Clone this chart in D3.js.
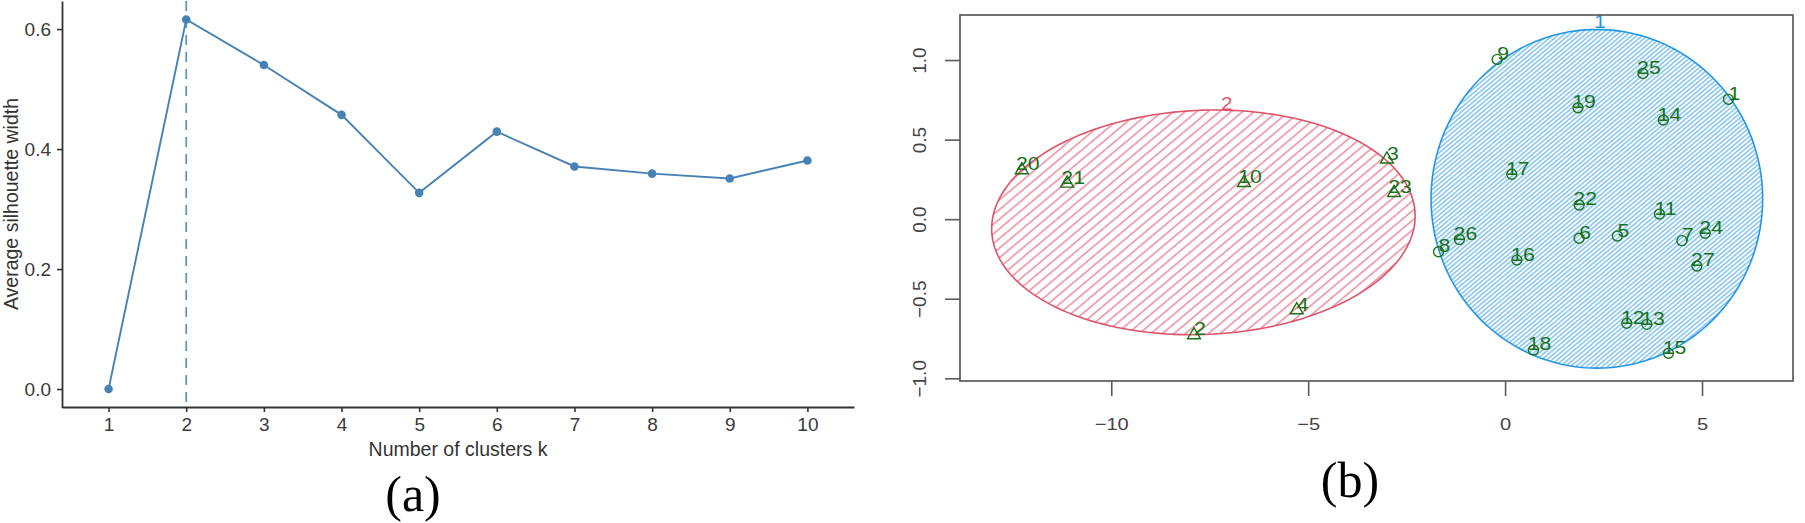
<!DOCTYPE html>
<html>
<head>
<meta charset="utf-8">
<script src="https://cdn.jsdelivr.net/npm/d3@7"></script>
<style>
  html, body { margin: 0; padding: 0; background: #fff; }
  svg { display: block; }
</style>
</head>
<body>
<svg id="chart" width="1805" height="523"></svg>
<script>
// ---------- Panel (a): silhouette ----------
const clusterCounts = ["1", "2", "3", "4", "5", "6", "7", "8", "9", "10"];
const silhouetteWidths = [0.000, 0.616, 0.540, 0.457, 0.327, 0.429, 0.371, 0.359, 0.351, 0.381];
const optimalK = "2";
const silhouetteTicks = [0, 0.2, 0.4, 0.6];

// ---------- Panel (b): cluster plot ----------
const pointIds      = [20, 21, 10, 3, 23, 4, 2,
                       9, 25, 1, 19, 14, 17, 22, 11, 26, 8, 6, 5, 7, 24, 16, 27, 12, 13, 18, 15];
const pointX        = [-12.27, -11.12, -6.63, -3.00, -2.82, -5.29, -7.90,
                       -0.20, 3.50, 5.67, 1.85, 4.02, 0.17, 1.88, 3.92, -1.16, -1.69, 1.88, 2.85, 4.49, 5.08, 0.30, 4.87, 3.09, 3.60, 0.72, 4.15];
const pointY        = [0.309, 0.225, 0.229, 0.376, 0.166, -0.571, -0.728,
                       1.004, 0.916, 0.753, 0.700, 0.623, 0.282, 0.089, 0.032, -0.127, -0.205, -0.120, -0.106, -0.135, -0.089, -0.257, -0.294, -0.654, -0.661, -0.822, -0.843];
const pointCluster  = [2, 2, 2, 2, 2, 2, 2,
                       1, 1, 1, 1, 1, 1, 1, 1, 1, 1, 1, 1, 1, 1, 1, 1, 1, 1, 1, 1];

const clusterIds     = [1, 2];
const clusterCx      = [2.33, -7.66];
const clusterCy      = [0.128, -0.020];
const clusterRx      = [4.21, 5.376];
const clusterRy      = [1.064, 0.705];
const clusterShear   = [0.0, 0.04];
const clusterLabelX  = [2.41, -7.07];
const clusterLabelY  = [1.241, 0.728];
const clusterColors  = ["#2297E6", "#DF536B"];
const clusterHatch   = [3.4, 7.4];   // hatch line spacing (px)

const xTicksB = [-10, -5, 0, 5];
const yTicksB = [-1, -0.5, 0, 0.5, 1];

const svg = d3.select("#chart");

// ================= Panel (a) =================
const gA = svg.append("g");
const xA = d3.scalePoint().domain(clusterCounts).range([62, 854]).padding(0.6);
const yA = d3.scaleLinear().domain([-0.0308, 0.6468]).range([407.5, 1]);
const steel = "#4682B4";

gA.append("line")
  .attr("x1", xA(optimalK)).attr("x2", xA(optimalK))
  .attr("y1", yA.range()[1]).attr("y2", yA.range()[0])
  .attr("stroke", "#5892c8").attr("stroke-width", 1.7)
  .attr("stroke-dasharray", "10,7");

const dataA = clusterCounts.map((k, i) => ({k, v: silhouetteWidths[i]}));
gA.append("path")
  .datum(dataA)
  .attr("fill", "none").attr("stroke", steel).attr("stroke-width", 1.9)
  .attr("d", d3.line().x(d => xA(d.k)).y(d => yA(d.v)));
gA.selectAll("circle.pt").data(dataA).join("circle")
  .attr("class", "pt")
  .attr("cx", d => xA(d.k)).attr("cy", d => yA(d.v)).attr("r", 4.3)
  .attr("fill", steel);

const axA_y = gA.append("g").attr("transform", "translate(62,0)")
  .call(d3.axisLeft(yA).tickValues(silhouetteTicks).tickFormat(d3.format(".1f")).tickSize(5).tickSizeOuter(0).tickPadding(6));
const axA_x = gA.append("g").attr("transform", "translate(0,407)")
  .call(d3.axisBottom(xA).tickSize(5).tickSizeOuter(0).tickPadding(6));
[axA_y, axA_x].forEach(ax => {
  ax.select(".domain").attr("stroke", "#333").attr("stroke-width", 1.8);
  ax.selectAll(".tick line").attr("stroke", "#333").attr("stroke-width", 1.6);
  ax.selectAll(".tick text").attr("fill", "#3a3a3a")
    .style("font-family", "'Liberation Sans', Arial, sans-serif").style("font-size", "19px");
});

gA.append("text")
  .attr("x", (62 + 854) / 2).attr("y", 456)
  .attr("text-anchor", "middle").attr("fill", "#333")
  .style("font-family", "'Liberation Sans', Arial, sans-serif").style("font-size", "19.5px")
  .text("Number of clusters k");
gA.append("text")
  .attr("transform", "translate(18," + ((1 + 407) / 2) + ") rotate(-90)")
  .attr("text-anchor", "middle").attr("fill", "#333")
  .style("font-family", "'Liberation Sans', Arial, sans-serif").style("font-size", "19.5px")
  .text("Average silhouette width");

svg.append("text")
  .attr("x", 413).attr("y", 511)
  .attr("text-anchor", "middle").attr("fill", "#000")
  .style("font-family", "'Liberation Serif', 'Times New Roman', serif").style("font-size", "50px")
  .text("(a)");

// ================= Panel (b) =================
const gB = svg.append("g");
const xB = d3.scaleLinear().domain([-13.84, 7.31]).range([960, 1793]);
const yB = d3.scaleLinear().domain([-1.017, 1.283]).range([381, 15]);
const defs = svg.append("defs");

clusterIds.forEach((id, i) => {
  const pat = defs.append("pattern")
    .attr("id", "hatch" + id)
    .attr("patternUnits", "userSpaceOnUse")
    .attr("width", 20).attr("height", clusterHatch[i])
    .attr("patternTransform", "rotate(-40)");
  pat.append("line")
    .attr("x1", 0).attr("x2", 20)
    .attr("y1", clusterHatch[i] / 2).attr("y2", clusterHatch[i] / 2)
    .attr("stroke", clusterColors[i]).attr("stroke-width", i === 0 ? 1.0 : 1.2)
    .attr("stroke-opacity", 0.85);
});

const tSteps = d3.range(0, 361, 2);
const ellipseLine = d3.line().x(d => xB(d[0])).y(d => yB(d[1])).curve(d3.curveLinearClosed);
clusterIds.forEach((id, i) => {
  const pts = tSteps.map(deg => {
    const t = deg * Math.PI / 180;
    return [clusterCx[i] + clusterRx[i] * Math.cos(t),
            clusterCy[i] + clusterRy[i] * Math.sin(t) + clusterShear[i] * Math.cos(t)];
  });
  gB.append("path")
    .attr("d", ellipseLine(pts))
    .attr("fill", "url(#hatch" + id + ")")
    .attr("stroke", clusterColors[i]).attr("stroke-width", 1.6);
  gB.append("text")
    .attr("transform", `translate(${xB(clusterLabelX[i])},${yB(clusterLabelY[i])}) scale(1.15,1)`)
    .attr("text-anchor", "middle").attr("dy", "0.35em")
    .attr("fill", clusterColors[i])
    .style("font-family", "'Liberation Sans', Arial, sans-serif").style("font-size", "18px")
    .text(id);
});

gB.append("rect")
  .attr("x", xB.range()[0]).attr("y", yB.range()[1])
  .attr("width", xB.range()[1] - xB.range()[0]).attr("height", yB.range()[0] - yB.range()[1])
  .attr("fill", "none").attr("stroke", "#5a5a5a").attr("stroke-width", 1.7);

const green = "#187318";
const dataB = pointIds.map((id, i) => ({id, x: pointX[i], y: pointY[i], c: pointCluster[i]}));
const sym = d3.symbol();
gB.selectAll("path.pt").data(dataB).join("path")
  .attr("class", "pt")
  .attr("transform", d => `translate(${xB(d.x)},${yB(d.y)})`)
  .attr("d", d => d.c === 1 ? sym.type(d3.symbolCircle).size(78)() : sym.type(d3.symbolTriangle).size(72)())
  .attr("fill", "none").attr("stroke", green).attr("stroke-width", 1.4);
gB.selectAll("text.lbl").data(dataB).join("text")
  .attr("class", "lbl")
  .attr("transform", d => `translate(${xB(d.x) + 6},${yB(d.y) - 6}) scale(1.15,1)`)
  .attr("text-anchor", "middle").attr("dy", "0.35em")
  .attr("fill", green)
  .style("font-family", "'Liberation Sans', Arial, sans-serif").style("font-size", "18.5px")
  .text(d => d.id);

const axB_x = gB.append("g").attr("transform", "translate(0,381)")
  .call(d3.axisBottom(xB).tickValues(xTicksB).tickSize(15).tickSizeOuter(0).tickPadding(22).tickFormat(d3.format("d")));
const axB_y = gB.append("g").attr("transform", "translate(960,0)")
  .call(d3.axisLeft(yB).tickValues(yTicksB).tickSize(15).tickSizeOuter(0).tickFormat(d3.format(".1f")));
[axB_x, axB_y].forEach(ax => {
  ax.select(".domain").remove();
  ax.selectAll(".tick line").attr("stroke", "#5a5a5a").attr("stroke-width", 1.6);
  ax.selectAll(".tick text").attr("fill", "#444")
    .style("font-family", "'Liberation Sans', Arial, sans-serif");
});
axB_x.selectAll(".tick text").style("font-size", "17px")
  .attr("transform", "scale(1.18,1)");
axB_y.selectAll(".tick text").style("font-size", "19px")
  .attr("transform", "rotate(-90)")
  .attr("x", 0).attr("y", -34).attr("dy", 0)
  .attr("text-anchor", "middle");

svg.append("text")
  .attr("x", 1350).attr("y", 497)
  .attr("text-anchor", "middle").attr("fill", "#000")
  .style("font-family", "'Liberation Serif', 'Times New Roman', serif").style("font-size", "50px")
  .text("(b)");
</script>
</body>
</html>
